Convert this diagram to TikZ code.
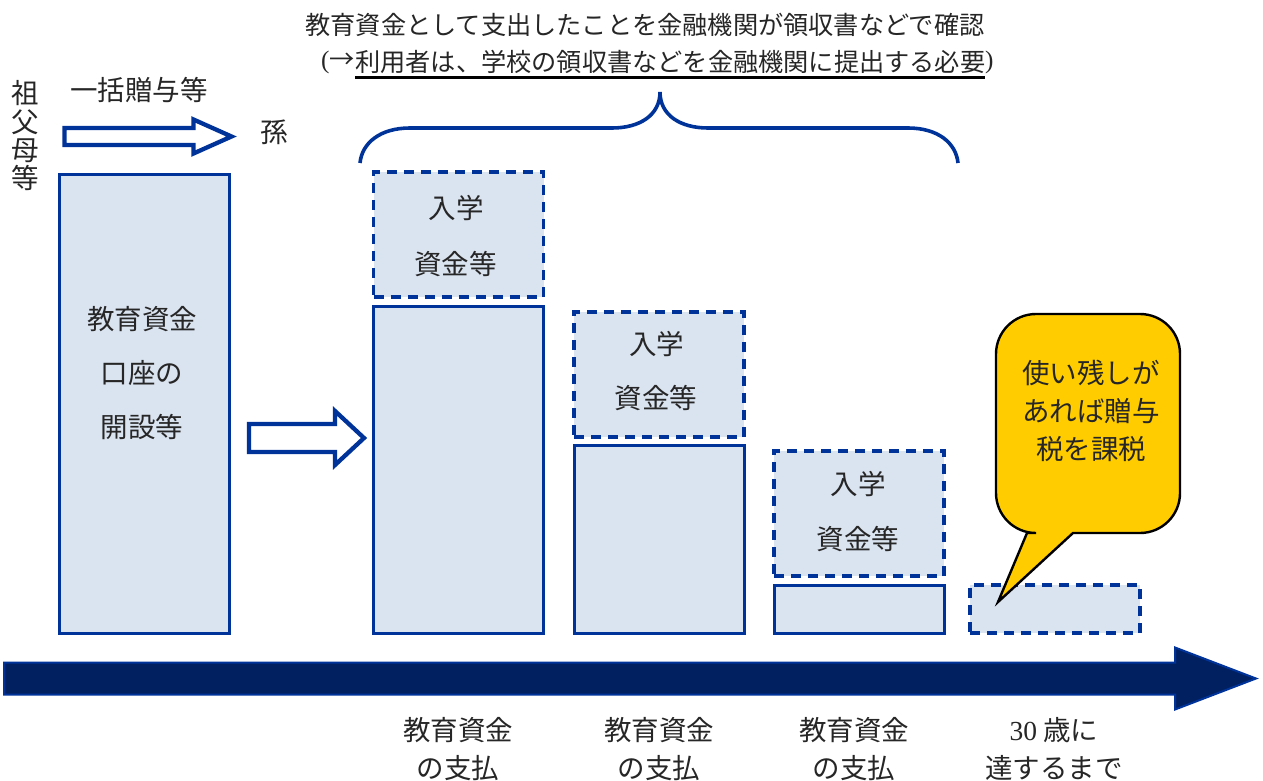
\documentclass[tikz,border=0pt]{standalone}
\usepackage{fontspec}
\setmainfont{Liberation Serif}
\newfontfamily\cjk{Noto Sans CJK JP}
\definecolor{boxfill}{HTML}{DAE3F0}
\definecolor{edgeblue}{HTML}{003399}
\definecolor{navy}{HTML}{002060}
\definecolor{callout}{HTML}{FFCC00}
\tikzset{
  solidbox/.style={draw=edgeblue,fill=boxfill,line width=3pt,line join=miter},
  dashbox/.style={draw=edgeblue,fill=boxfill,line width=3.2pt,dash pattern=on 10pt off 7pt,inner sep=0pt},
  lab/.style={inner sep=0pt,text=black!85,font=\cjk\fontsize{27.5}{33}\selectfont},
  small/.style={inner sep=0pt,text=black!85,font=\cjk\fontsize{25.2}{30}\selectfont},
  hollowarrow/.style={draw=edgeblue,fill=white,line width=4.3pt,line join=miter,miter limit=10},
  brace/.style={draw=edgeblue,line width=3.6pt},
}
\begin{document}
\begin{tikzpicture}[x=1pt,y=-1pt]
\useasboundingbox (0,0) rectangle (1263,781);

% top caption
\node[small] (cap1) at (645,25) {教育資金として支出したことを金融機関が領収書などで確認};
\node[small,anchor=west] (cap2) at (355,62) {利用者は、学校の領収書などを金融機関に提出する必要};
\node[small,anchor=east] (capL) at (355,62) {{\rmfamily(}→};
\node[small,anchor=west] (capR) at (985,62) {{\rmfamily)}};
\coordinate (ulA) at (355,77.5);
\coordinate (ulB) at (985,77.5);
\draw[line width=2.2pt,black] (ulA) -- (ulB);

% brace
\coordinate (brL) at (360,163);
\coordinate (brM) at (660,92);
\coordinate (brR) at (958,163);
\draw[brace] (brL) .. controls (362,143) and (380,128) .. (410,128) -- (612,128)
  .. controls (640,128) and (660,115) .. (brM)
  .. controls (660,115) and (680,128) .. (708,128) -- (908,128)
  .. controls (938,128) and (956,143) .. (brR);

% top-left labels
\node[lab] (g1) at (25,93) {祖};
\node[lab] (g2) at (25,122.5) {父};
\node[lab] (g3) at (25,150.5) {母};
\node[lab] (g4) at (25,178) {等};
\node[lab] (gift) at (139,90) {一括贈与等};
\node[lab] (grand) at (274,132) {孫};
\draw[hollowarrow] (64.5,128) -- (193.5,128) -- (193.5,119.5) -- (231.5,136.5) -- (193.5,153.5) -- (193.5,145) -- (64.5,145) -- cycle;

% account box
\draw[solidbox] (59,174) rectangle (229,633);
\node[lab] (acc1) at (142,319) {教育資金};
\node[lab] (acc2) at (142,373) {口座の};
\node[lab] (acc3) at (142,427) {開設等};

% middle arrow
\draw[hollowarrow] (249,424) -- (335,424) -- (335,411) -- (364,438) -- (335,465) -- (335,452) -- (249,452) -- cycle;

% balance boxes
\draw[solidbox] (373.5,306.5) rectangle (543,633);
\draw[solidbox] (574,445.5) rectangle (744.5,633);
\draw[solidbox] (774,585) rectangle (944.5,633);

% dashed boxes
\node[dashbox,minimum width=170pt,minimum height=125pt] (ent1) at (458.5,234.5) {};
\node[dashbox,minimum width=170pt,minimum height=125pt] (ent2) at (659,374.5) {};
\node[dashbox,minimum width=170pt,minimum height=125pt] (ent3) at (859,513.5) {};
\node[dashbox,minimum width=170pt,minimum height=48pt] (rest) at (1055,609) {};
\node[lab] (t1a) at (456,208) {入学};
\node[lab] (t1b) at (455.5,264) {資金等};
\node[lab] (t2a) at (656.5,344) {入学};
\node[lab] (t2b) at (656,398) {資金等};
\node[lab] (t3a) at (858,484) {入学};
\node[lab] (t3b) at (858,539) {資金等};

% callout
\draw[black,fill=callout,line width=2.4pt,line join=miter,miter limit=10]
  (1027,533) -- (998,602) -- (1073,533) -- (1140,533)
  arc[start angle=90,end angle=0,radius=40] -- (1180,354)
  arc[start angle=0,end angle=-90,radius=40] -- (1036,314)
  arc[start angle=-90,end angle=-180,radius=40] -- (996,493)
  arc[start angle=180,end angle=90,radius=40] -- cycle;
\node[lab] (c1) at (1091,373) {使い残しが};
\node[lab] (c2) at (1091,411) {あれば贈与};
\node[lab] (c3) at (1091,449) {税を課税};

% timeline
\draw[draw=edgeblue,fill=navy,line width=2pt,line join=miter,miter limit=10]
  (4,662.5) -- (1175,662.5) -- (1175,647.5) -- (1256,678.5) -- (1175,709.5) -- (1175,694.5) -- (4,694.5) -- cycle;

% bottom labels
\node[lab] (p1a) at (458,730) {教育資金};
\node[lab] (p1b) at (458,768) {の支払};
\node[lab] (p2a) at (659,730) {教育資金};
\node[lab] (p2b) at (659,768) {の支払};
\node[lab] (p3a) at (854,730) {教育資金};
\node[lab] (p3b) at (854,768) {の支払};
\node[lab] (e1) at (1054,730) {{\rmfamily 30} 歳に};
\node[lab] (e2) at (1054,768) {達するまで};
\end{tikzpicture}
\end{document}
